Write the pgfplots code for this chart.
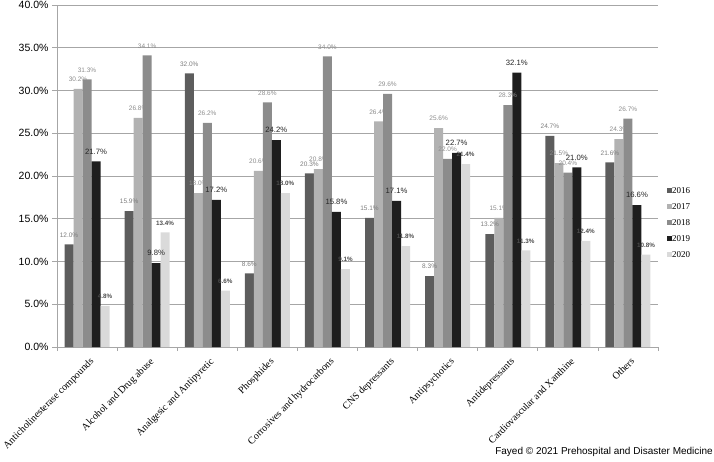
\documentclass[border=0pt]{standalone}
\usepackage{pgfplots}
\pgfplotsset{compat=1.18}
\usepackage{fontspec}
\setmainfont{Liberation Serif}
\newfontfamily\arialfont{Liberation Sans}
\usetikzlibrary{calc}

\definecolor{c16}{HTML}{5D5D5D}
\definecolor{c17}{HTML}{B2B2B2}
\definecolor{c18}{HTML}{8C8C8C}
\definecolor{c19}{HTML}{1E1E1E}
\definecolor{c20}{HTML}{DADADA}
\definecolor{gridc}{HTML}{A6A6A6}

\begin{document}
\begin{tikzpicture}
\begin{axis}[
name=ax,
scale only axis,
width=601pt, height=342pt,
ybar=0pt, bar width=9pt,
xmin=-0.5, xmax=9.5,
ymin=0, ymax=40,
ytick={0,5,...,40},
xtick={0,...,9},
minor xtick={-0.5,0.5,...,9.5},
xticklabels={Anticholinesterase compounds, Alcohol and Drug abuse, Analgesic and Antipyretic, Phosphides, Corrosives and hydrocarbons, CNS depressants, Antipsychotics, Antidepressants, Cardiovascular and Xanthine, Others},
xticklabel style={rotate=45, anchor=north east, font=\fontsize{10}{12}\selectfont, inner sep=1pt, yshift=-4pt, xshift=-1pt},
yticklabel={\arialfont\pgfmathprintnumber[fixed,fixed zerofill,precision=1,assume math mode=true]{\tick}\%},
yticklabel style={font=\arialfont\fontsize{10.5}{12}\selectfont},
axis x line*=bottom, axis y line*=left,
axis line style={gridc, line width=0.8pt},
tick align=outside,
major tick length=5pt,
minor tick length=4pt,
major x tick style={draw=none},
minor x tick style={gridc, line width=0.8pt},
major y tick style={gridc, line width=0.8pt},
ymajorgrids,
grid style={gridc, line width=0.9pt},
clip=false,
nodes near coords={\pgfmathprintnumber[fixed,fixed zerofill,precision=1,assume math mode=true]{\pgfplotspointmeta}\%},
every node near coord/.append style={anchor=south, inner sep=0pt, yshift=7pt, font=\arialfont\fontsize{6.5}{7}\selectfont},
legend style={at={(1,0.363)}, anchor=west, xshift=9pt, draw=none, fill=none, inner sep=0pt,
  font=\fontsize{9}{10}\selectfont, row sep=8pt,
  nodes={inner sep=0pt, text height=7pt, text depth=1pt}},
legend cell align=left,
legend image code/.code={\fill[#1] (0pt,-2.5pt) rectangle (5pt,2.5pt);},
]
\addplot[fill=c16, draw=none, every node near coord/.append style={text=c16!80}] coordinates {
(0,12.0)(1,15.9)(2,32.0)(3,8.6)(4,20.3)(5,15.1)(6,8.3)(7,13.2)(8,24.7)(9,21.6)};
\addplot[fill=c17, draw=none, every node near coord/.append style={text=c18}] coordinates {
(0,30.2)(1,26.8)(2,18.0)(3,20.6)(4,20.8)(5,26.4)(6,25.6)(7,15.1)(8,21.5)(9,24.3)};
\addplot[fill=c18, draw=none, every node near coord/.append style={text=c17!80!black}] coordinates {
(0,31.3)(1,34.1)(2,26.2)(3,28.6)(4,34.0)(5,29.6)(6,22.0)(7,28.3)(8,20.4)(9,26.7)};
\addplot[fill=c19, draw=none, every node near coord/.append style={text=black!85, font=\arialfont\fontsize{7.7}{8}\selectfont}] coordinates {
(0,21.7)(1,9.8)(2,17.2)(3,24.2)(4,15.8)(5,17.1)(6,22.7)(7,32.1)(8,21.0)(9,16.6)};
\addplot[fill=c20, draw=none, every node near coord/.append style={text=black!70, font=\arialfont\bfseries\fontsize{6.3}{7}\selectfont}] coordinates {
(0,4.8)(1,13.4)(2,6.6)(3,18.0)(4,9.1)(5,11.8)(6,21.4)(7,11.3)(8,12.4)(9,10.8)};
\legend{2016,2017,2018,2019,2020}
\end{axis}
\node[anchor=east, inner sep=0pt, font=\arialfont\fontsize{10}{12}\selectfont] at ($(ax.south west)+(656pt,-105pt)$) {Fayed © 2021 Prehospital and Disaster Medicine};
\pgfresetboundingbox
\path ($(ax.south west)+(-57pt,-114pt)$) rectangle ($(ax.south west)+(657pt,347pt)$);
\end{tikzpicture}
\end{document}
